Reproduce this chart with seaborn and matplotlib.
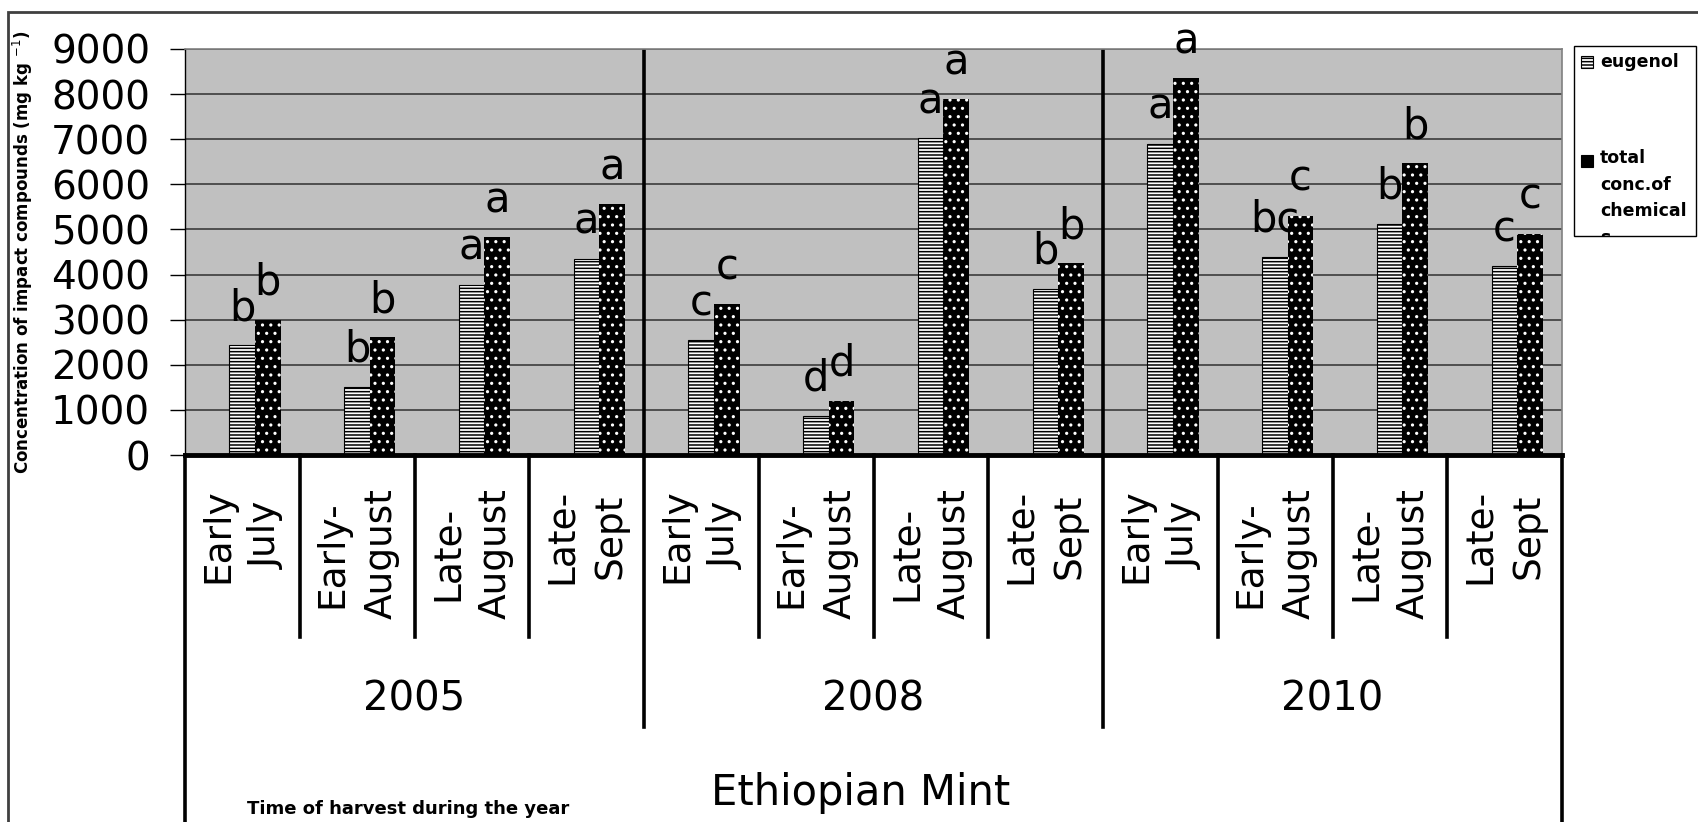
import numpy as np
import pandas as pd
import seaborn as sns
import matplotlib.pyplot as plt
import matplotlib.transforms as mtransforms
from matplotlib.patches import Rectangle
from matplotlib.lines import Line2D

# data
years = ['2005', '2008', '2010']
periods = ['Early\nJuly', 'Early-\nAugust', 'Late-\nAugust', 'Late-\nSept']
series = ['eugenol', 'total']
legend_labels = ['eugenol', 'total\nconc.of\nchemical\ns']
eugenol = [2430, 1510, 3770, 4350, 2540, 870, 7020, 3680, 6900, 4390, 5130, 4180]
total = [3000, 2610, 4830, 5560, 3340, 1200, 7890, 4250, 8350, 5300, 6470, 4910]
eug_letters = ['b', 'b', 'a', 'a', 'c', 'd', 'a', 'b', 'a', 'bc', 'b', 'c']
tot_letters = ['b', 'b', 'a', 'a', 'c', 'd', 'a', 'b', 'a', 'c', 'b', 'c']

slots = [y + ' ' + p for y in years for p in periods]
df = pd.DataFrame({
    'slot': slots * 2,
    'compound': ['eugenol'] * 12 + ['total'] * 12,
    'value': eugenol + total,
})

plt.rcParams['font.family'] = 'DejaVu Sans'
plt.rcParams['hatch.linewidth'] = 1.1

W, H = 1698, 822
fig = plt.figure(figsize=(W / 100, H / 100), dpi=100)
ax = fig.add_axes([185 / W, 1 - 455 / H, (1562 - 185) / W, (455 - 49) / H])
ax.set_facecolor('#c0c0c0')

sns.barplot(data=df, x='slot', y='value', hue='compound', order=slots,
            hue_order=series, palette=['white', 'black'], saturation=1,
            width=0.445, errorbar=None, legend=False, ax=ax)

shift = 0.61  # bars sit a little right of the category centres
ax.set_xlim(-shift, 12 - shift)
ax.set_ylim(0, 9000)

for bar in ax.containers[0]:
    bar.set_facecolor('white')
    bar.set_edgecolor('black')
    bar.set_hatch('-----')
    bar.set_linewidth(0.8)
    bar.set_zorder(2)
for bar in ax.containers[1]:
    bar.set_facecolor('black')
    bar.set_edgecolor('white')
    bar.set_hatch('..')
    bar.set_linewidth(0)
    bar.set_zorder(2.2)

# significance letters
for cont, letters, z in [(ax.containers[0], eug_letters, 1.5), (ax.containers[1], tot_letters, 3)]:
    for bar, lab in zip(cont, letters):
        ax.annotate(lab, xy=(bar.get_x() + bar.get_width() / 2, bar.get_height()),
                    xytext=(0, 18), textcoords='offset points', ha='center',
                    va='baseline', fontsize=30, zorder=z)

# grid / axes styling
ax.set_axisbelow(True)
ax.yaxis.grid(True, color='#303030', lw=1.1)
ax.xaxis.grid(False)
ax.set_yticks(np.arange(0, 9001, 1000))
ax.tick_params(axis='y', labelsize=28, length=11, width=1, pad=14, direction='out')
ax.set_xticks(np.arange(12) - 0.11)
ax.set_xticklabels(periods * 3)
ax.tick_params(axis='x', length=0, pad=24, labelsize=27)
for t in ax.get_xticklabels():
    t.set_rotation(90)
    t.set_va('top')
    t.set_ha('center')
    t.set_multialignment('center')
    t.set_linespacing(1.45)
ax.set_xlabel('')
ax.set_ylabel('')
ax.spines['bottom'].set_linewidth(3.5)
ax.spines['left'].set_linewidth(1)
for s in ['top', 'right']:
    ax.spines[s].set_color('#808080')
    ax.spines[s].set_linewidth(1.2)

# year dividers through the plot
for k in [4, 8]:
    ax.axvline(k - shift, color='black', lw=2.6, zorder=2.5)

# category-axis box lines below the plot
tr = mtransforms.blended_transform_factory(ax.transData, fig.transFigure)
for k in range(13):
    if k in (0, 12):
        y0, y1 = 455, 830
    elif k in (4, 8):
        y0, y1 = 455, 727
    else:
        y0, y1 = 455, 637
    fig.add_artist(Line2D([k - shift, k - shift], [1 - y0 / H, 1 - y1 / H],
                          transform=tr, color='black', lw=2.6, clip_on=False))

for i, yr in enumerate(years):
    fig.text(4 * i + 1.5 - 0.11, 1 - 699 / H, yr, transform=tr,
             ha='center', va='center', fontsize=29)

fig.text(861 / W, 1 - 805 / H, 'Ethiopian Mint', ha='center', va='baseline', fontsize=30)
fig.text(247 / W, 1 - 809 / H, 'Time of harvest during the year', ha='left',
         va='center', fontsize=13, fontweight='bold')
fig.text(23 / W, 1 - 252 / H, r'Concentration of impact compounds (mg kg $^{-1}$)',
         rotation=90, ha='center', va='center', fontsize=12, fontweight='bold')

# outer frame
fig.add_artist(Rectangle((8 / W, -0.2), 1.2, 1.2 - 12 / H, transform=fig.transFigure,
                         fill=False, edgecolor='#404040', lw=2))

# legend box drawn by hand
leg = Rectangle((1574 / W, 1 - 236 / H), 122 / W, 190 / H, transform=fig.transFigure,
                fill=False, edgecolor='black', lw=1)
fig.add_artist(leg)
fig.add_artist(Rectangle((1581 / W, 1 - 68 / H), 12 / W, 12 / H, transform=fig.transFigure,
                         facecolor='white', edgecolor='black', hatch='-----', lw=0.8))
fig.add_artist(Rectangle((1581 / W, 1 - 167 / H), 12 / W, 12 / H, transform=fig.transFigure,
                         facecolor='black', edgecolor='black', lw=0.8))
fig.text(1600 / W, 1 - 62 / H, legend_labels[0], ha='left', va='center',
         fontsize=12.5, fontweight='bold')
t2 = fig.text(1600 / W, 1 - 149 / H, legend_labels[1], ha='left', va='top',
              fontsize=12.5, fontweight='bold', linespacing=1.62)
t2.set_clip_path(leg)

fig.savefig('out.png', dpi=100)
